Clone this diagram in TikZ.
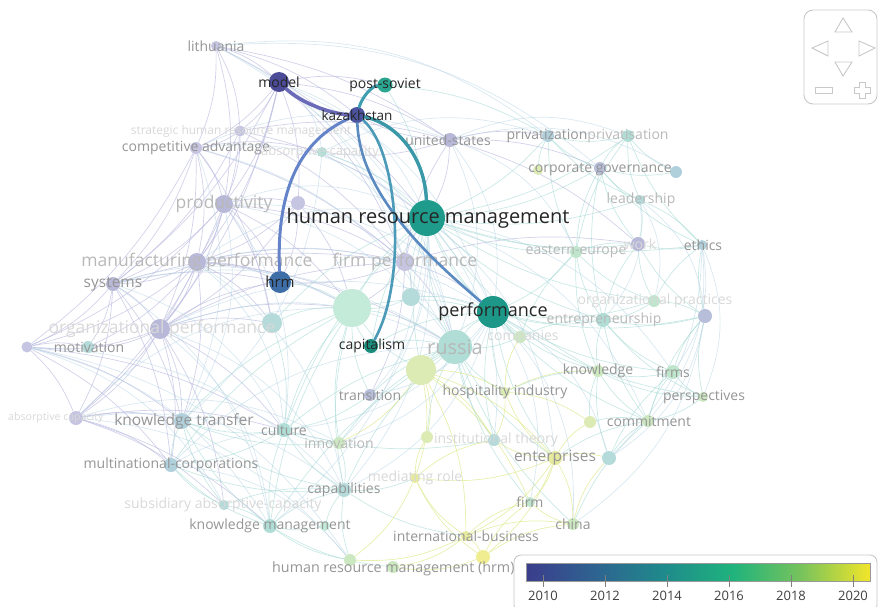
\documentclass[tikz,border=0pt]{standalone}
\usepackage{fontspec}
\setmainfont{Open Sans}
\usetikzlibrary{graphs,backgrounds}

\definecolor{lav}{HTML}{C5C5E2}
\definecolor{lavd}{HTML}{B8B8D8}
\definecolor{tealA}{HTML}{B0DED6}
\definecolor{tealB}{HTML}{B4DADA}
\definecolor{blueA}{HTML}{B6BEDA}
\definecolor{blueB}{HTML}{B0D0DC}
\definecolor{greenA}{HTML}{BFE6CC}
\definecolor{greenB}{HTML}{C4EADA}
\definecolor{greenC}{HTML}{CCE8C0}
\definecolor{yelA}{HTML}{DCEAB4}
\definecolor{yelB}{HTML}{E6EA9E}
\definecolor{yelC}{HTML}{F0EC90}
\definecolor{hmodel}{HTML}{4B4B97}
\definecolor{hpost}{HTML}{2AA690}
\definecolor{hkaz}{HTML}{4D549F}
\definecolor{hhrmgt}{HTML}{1F9B8C}
\definecolor{hhrm}{HTML}{3D6EA8}
\definecolor{hperf}{HTML}{1D9888}
\definecolor{hcap}{HTML}{1B8D7C}
\definecolor{wmodel}{HTML}{6A6AB8}
\definecolor{wpost}{HTML}{3E9EB0}
\definecolor{whrm}{HTML}{6583C8}
\definecolor{wperf}{HTML}{5A8AC0}
\definecolor{wcap}{HTML}{4A9AB8}
\definecolor{whrmgt}{HTML}{3B98A8}
\definecolor{tgray}{HTML}{959595}
\definecolor{tpale}{HTML}{B8B8B8}
\definecolor{tghost}{HTML}{D8D8D8}
\definecolor{wlav}{HTML}{B9B9E0}
\definecolor{wteal}{HTML}{9ED6D0}
\definecolor{wyel}{HTML}{DDE88A}
\definecolor{wmix}{HTML}{B4D2E2}
\definecolor{navgray}{HTML}{C8C8C8}
\definecolor{vir0}{HTML}{3B3D8C}
\definecolor{vir1}{HTML}{2E6390}
\definecolor{vir2}{HTML}{1F8A8B}
\definecolor{vir3}{HTML}{1FB37D}
\definecolor{vir4}{HTML}{78C35C}
\definecolor{vir5}{HTML}{F2E52A}
\pgfdeclarehorizontalshading{viridis}{100bp}{color(0bp)=(vir0); color(25bp)=(vir0); color(35bp)=(vir1); color(45bp)=(vir2); color(55bp)=(vir3); color(65bp)=(vir4); color(75bp)=(vir5); color(100bp)=(vir5)}

\tikzset{
    dot/.style 2 args={
        shape=circle,
        fill=#1,
        minimum size=#2,
        inner sep=0pt
    },
    tag/.style={
        inner sep=0pt,
        text=tgray,
        font=\fontsize{14}{14}\selectfont
    },
    midtag/.style={font=\fontsize{15.5}{16}\selectfont},
    bigtag/.style={font=\fontsize{17.5}{18}\selectfont},
    pale/.style={text=tpale},
    ghost/.style={text=tghost},
    keytag/.style={
        inner sep=0pt,
        text=black!85,
        font=\fontsize{14}{14}\selectfont
    },
    lavwire/.style={draw=wlav, opacity=.65, line width=.7pt, bend left=12},
    tealwire/.style={draw=wteal, opacity=.55, line width=.7pt, bend right=12},
    yelwire/.style={draw=wyel, opacity=.7, line width=.7pt, bend left=14},
    mixwire/.style={draw=wmix, opacity=.5, line width=.7pt, bend left=22},
    hotwire/.style={draw=#1, line width=3pt, line cap=round},
    nav/.style={draw=navgray, line width=.9pt},
    yeartick/.style={draw=gray, line width=1pt},
    yearlbl/.style={
        inner sep=0pt,
        text=black!75,
        font=\fontsize{13}{13}\selectfont
    }
}

\begin{document}
\begin{tikzpicture}[x=1pt, y=-1pt]
    \useasboundingbox (0,0) rectangle (878,606);
    % faded keywords
    \node[dot={lav}{10pt}] (lith) at (216,46) {};
    \node[dot={lav}{11pt}] (sthrm) at (240,131) {};
    \node[dot={lav}{12pt}] (compadv) at (196,148) {};
    \node[dot={tealA}{10pt}] (absorb) at (322,152) {};
    \node[dot={lavd}{14pt}] (usa) at (450,140) {};
    \node[dot={blueB}{12pt}] (priv1) at (548,136) {};
    \node[dot={tealA}{12pt}] (priv2) at (628,136) {};
    \node[dot={yelA}{10pt}] (corpgovg) at (538,170) {};
    \node[dot={blueA}{12pt}] (corpgov) at (600,168) {};
    \node[dot={blueB}{12pt}] (corpgov2) at (676,172) {};
    \node[dot={tealB}{10pt}] (leader) at (640,200) {};
    \node[dot={lavd}{18pt}] (prod) at (224,204) {};
    \node[dot={lav}{14pt}] (prodb) at (298,203) {};
    \node[dot={greenA}{12pt}] (eeurope) at (576,252) {};
    \node[dot={lavd}{14pt}] (work) at (638,244) {};
    \node[dot={blueB}{10pt}] (ethics) at (702,245) {};
    \node[dot={lavd}{18pt}] (manuf) at (197,262) {};
    \node[dot={lav}{18pt}] (firmperf) at (405,262) {};
    \node[dot={lavd}{14pt}] (systems) at (113,284) {};
    \node[dot={greenB}{38pt}] (big1) at (352,308) {};
    \node[dot={tealB}{18pt}] (mid1) at (411,297) {};
    \node[dot={tealB}{20pt}] (mid2) at (272,323) {};
    \node[dot={lavd}{20pt}] (orgperf) at (160,329) {};
    \node[dot={tealB}{12pt}] (motiv) at (88,347) {};
    \node[dot={lav}{11pt}] (motivl) at (27,347) {};
    \node[dot={greenA}{12pt}] (orgprac) at (654,301) {};
    \node[dot={tealA}{14pt}] (ent) at (603,320) {};
    \node[dot={blueA}{14pt}] (emerg) at (705,316) {};
    \node[dot={greenC}{12pt}] (companies) at (520,337) {};
    \node[dot={tealA}{34pt}] (russia) at (455,347) {};
    \node[dot={yelA}{30pt}] (hrmprac) at (421,370) {};
    \node[dot={greenC}{12pt}] (knowledge) at (598,371) {};
    \node[dot={greenA}{14pt}] (firms) at (673,372) {};
    \node[dot={blueA}{12pt}] (transition) at (370,395) {};
    \node[dot={yelA}{10pt}] (hosp) at (505,392) {};
    \node[dot={greenC}{10pt}] (persp) at (703,397) {};
    \node[dot={lav}{14pt}] (absl) at (76,418) {};
    \node[dot={blueB}{16pt}] (ktrans) at (182,421) {};
    \node[dot={tealA}{14pt}] (culture) at (284,430) {};
    \node[dot={greenC}{12pt}] (innov) at (339,443) {};
    \node[dot={yelA}{12pt}] (yelg) at (427,437) {};
    \node[dot={tealB}{12pt}] (instth) at (494,440) {};
    \node[dot={yelA}{12pt}] (sy) at (590,422) {};
    \node[dot={greenC}{12pt}] (commit) at (648,421) {};
    \node[dot={yelB}{14pt}] (enterpr) at (555,458) {};
    \node[dot={tealB}{14pt}] (ent2) at (609,458) {};
    \node[dot={blueB}{14pt}] (mnc) at (171,465) {};
    \node[dot={yelB}{10pt}] (medrole) at (415,478) {};
    \node[dot={tealB}{14pt}] (capab) at (344,490) {};
    \node[dot={greenA}{10pt}] (firm) at (530,502) {};
    \node[dot={tealB}{10pt}] (subsid) at (224,505) {};
    \node[dot={tealA}{14pt}] (kmgmt) at (270,526) {};
    \node[dot={greenB}{10pt}] (kmgmt2) at (325,526) {};
    \node[dot={greenC}{12pt}] (china) at (573,524) {};
    \node[dot={yelB}{10pt}] (intbus) at (466,536) {};
    \node[dot={greenC}{12pt}] (hrmh1) at (350,560) {};
    \node[dot={greenC}{12pt}] (hrmh2) at (393,567) {};
    \node[dot={yelC}{14pt}] (yel) at (483,557) {};

    % kazakhstan and its links
    \node[dot={hmodel}{20pt}] (model) at (279,82) {};
    \node[dot={hpost}{15pt}] (postsov) at (385,85) {};
    \node[dot={hkaz}{16pt}] (kaz) at (357,115) {};
    \node[dot={hhrmgt}{36pt}] (hrmgt) at (427,218) {};
    \node[dot={hhrm}{22pt}] (hrm) at (280,282) {};
    \node[dot={hperf}{32pt}] (perf) at (493,312) {};
    \node[dot={hcap}{14pt}] (cap) at (371,346) {};

    \begin{pgfonlayer}{background}
        \graph[use existing nodes, edges={lavwire}]{
            lith -- {model, sthrm, compadv, kaz, prod, usa, hrmgt};
            model -- {compadv, sthrm, prod, prodb, manuf, firmperf, systems, usa, postsov, orgperf};
            sthrm -- {compadv, prod, manuf, firmperf, usa, hrmgt, systems};
            compadv -- {prod, manuf, systems, orgperf, firmperf, motivl, absorb, mid2};
            prod -- {manuf, systems, orgperf, firmperf, hrm, motivl, prodb, big1, mid2, absl};
            prodb -- {manuf, firmperf, hrm, big1, orgperf};
            manuf -- {systems, orgperf, firmperf, motivl, motiv, absl, ktrans, big1, mid2, hrm, russia};
            systems -- {orgperf, motivl, motiv, absl, ktrans, mnc, firmperf, hrm};
            orgperf -- {motivl, motiv, absl, ktrans, mnc, firmperf, mid2, big1, culture, hrm, subsid};
            motivl -- {motiv, absl, ktrans, mnc, culture};
            absl -- {ktrans, mnc, subsid, kmgmt, culture};
            firmperf -- {usa, hrmgt, perf, big1, mid1, russia, hrm, transition, work};
            usa -- {hrmgt, priv1, corpgov, work, kaz, absorb};
        };
        \graph[use existing nodes, edges={tealwire}]{
            hrmgt -- {perf, russia, big1, mid1, eeurope, priv1, priv2, corpgov, leader, work, ethics, ent, companies, cap, hrmprac, absorb, postsov, orgprac, knowledge, mid2, culture};
            perf -- {russia, big1, mid1, eeurope, ent, orgprac, companies, knowledge, firms, hosp, commit, instth, enterpr, cap, hrmprac, emerg, persp};
            russia -- {big1, mid1, hrmprac, cap, transition, companies, hosp, innov, capab, instth, enterpr, culture, kmgmt, firm, china, yelg};
            big1 -- {mid1, mid2, cap, hrm, culture, transition, innov, capab, ktrans, mnc, kmgmt, hrmprac};
            priv1 -- {priv2, corpgov, corpgovg, eeurope, leader, postsov};
            priv2 -- {corpgov, corpgov2, leader, eeurope, ethics};
            corpgov -- {corpgov2, leader, eeurope, work, ethics, ent};
            work -- {ethics, leader, orgprac, ent, emerg, eeurope};
            ethics -- {emerg, orgprac, leader};
            eeurope -- {ent, orgprac, companies, knowledge};
            ent -- {orgprac, emerg, knowledge, firms, persp, commit, companies};
            emerg -- {firms, persp, orgprac, commit};
            knowledge -- {firms, persp, commit, sy, ent2, hosp};
            firms -- {persp, commit, ent2};
            commit -- {ent2, sy, enterpr, china, persp};
            ktrans -- {mnc, culture, subsid, kmgmt, capab, innov};
            mnc -- {subsid, kmgmt, culture, capab};
            culture -- {innov, capab, kmgmt, transition, instth, mid2};
            capab -- {kmgmt, kmgmt2, innov, medrole, hrmh1, intbus, subsid};
            kmgmt -- {kmgmt2, subsid, hrmh1, hrmh2};
        };
        \graph[use existing nodes, edges={yelwire}]{
            hrmprac -- {hosp, yelg, medrole, intbus, enterpr, instth, innov, firm};
            enterpr -- {ent2, instth, firm, china, sy, hosp, medrole, intbus, yel};
            intbus -- {yel, medrole, firm, china, hrmh2, hrmh1};
            yel -- {hrmh2, china, firm, medrole};
            hosp -- {sy, instth, knowledge, companies};
            medrole -- {yelg, instth, hrmh1};
            china -- {firm, ent2};
        };
        \graph[use existing nodes, edges={mixwire}]{
            lith -- {priv1, corpgov, firmperf, russia};
            model -- {hrmgt, russia, perf, absorb};
            compadv -- {hrmgt, usa, russia, ktrans};
            prod -- {hrmgt, russia, perf, culture, ktrans};
            manuf -- {hrmgt, perf, culture, capab};
            systems -- {culture, big1, kmgmt, russia};
            motivl -- {subsid, kmgmt, hrmh1, capab};
            absl -- {hrmh1, capab, innov, big1};
            mnc -- {hrmh1, innov, russia};
            orgperf -- {russia, perf, capab, kmgmt};
            usa -- {priv2, corpgov2, perf, russia, eeurope};
            absorb -- {priv1, russia, perf, ktrans};
            hrmgt -- {transition, innov, capab, kmgmt, firms, commit, enterpr, instth};
            perf -- {capab, innov, transition, culture, china, firm, ent2};
            ethics -- {firms, persp, ent2, commit};
            emerg -- {ent2, china};
            leader -- {ent, orgprac, emerg};
        };
    \end{pgfonlayer}

    % faded labels
    \node[tag] (tlith) at (lith) {lithuania};
    \node[tag, ghost, font=\fontsize{12}{12}\selectfont] (tsthrm) at (241,131) {strategic human resource management};
    \node[tag] (tcompadv) at (196,148) {competitive advantage};
    \node[tag, ghost, font=\fontsize{13}{13}\selectfont] (tabsorb) at (320,152) {absorptive-capacity};
    \node[tag] (tusa) at (448,140) {united-states};
    \node[tag] (tpriv1) at (547,136) {privatization};
    \node[tag, pale] (tpriv2) at (628,136) {privatisation};
    \node[tag] (tcorpgov) at (600,170) {corporate governance};
    \node[tag, pale] (tleader) at (641,200) {leadership};
    \node[tag, bigtag, pale] (tprod) at (224,204) {productivity};
    \node[tag, pale] (teeurope) at (576,252) {eastern-europe};
    \node[tag, ghost] (twork) at (640,244) {work};
    \node[tag] (tethics) at (703,245) {ethics};
    \node[tag, bigtag, pale] (tmanuf) at (197,262) {manufacturing performance};
    \node[tag, bigtag, pale] (tfirmperf) at (405,262) {firm performance};
    \node[tag, midtag] (tsystems) at (113,284) {systems};
    \node[tag, bigtag, ghost] (torgperf) at (162,329) {organizational performance};
    \node[tag] (tmotiv) at (89,347) {motivation};
    \node[tag, ghost] (torgprac) at (655,301) {organizational practices};
    \node[tag, pale] (tent) at (604,320) {entrepreneurship};
    \node[tag, ghost] (tcompanies) at (523,337) {companies};
    \node[tag, font=\fontsize{20}{20}\selectfont, text=tpale] (trussia) at (455,347) {russia};
    \node[tag] (tknowledge) at (598,371) {knowledge};
    \node[tag] (tfirms) at (673,372) {firms};
    \node[tag] (ttransition) at (370,395) {transition};
    \node[tag] (thosp) at (505,392) {hospitality industry};
    \node[tag] (tpersp) at (704,397) {perspectives};
    \node[tag, ghost, anchor=west, font=\fontsize{10.6}{11}\selectfont] (tabsl) at (8,418) {absorptive capacity};
    \node[tag, midtag] (tktrans) at (184,421) {knowledge transfer};
    \node[tag] (tculture) at (284,430) {culture};
    \node[tag, pale] (tinnov) at (339,443) {innovation};
    \node[tag, ghost] (tinstth) at (496,440) {institutional theory};
    \node[tag] (tcommit) at (649,421) {commitment};
    \node[tag, midtag] (tenterpr) at (555,458) {enterprises};
    \node[tag] (tmnc) at (171,465) {multinational-corporations};
    \node[tag, ghost] (tmedrole) at (415,478) {mediating role};
    \node[tag] (tcapab) at (344,490) {capabilities};
    \node[tag] (tfirm) at (530,502) {firm};
    \node[tag, ghost] (tsubsid) at (223,505) {subsidiary absorptive-capacity};
    \node[tag] (tkmgmt) at (270,526) {knowledge management};
    \node[tag] (tchina) at (573,524) {china};
    \node[tag] (tintbus) at (466,536) {international-business};
    \node[tag, anchor=west, font=\fontsize{14.3}{14.3}\selectfont] (thrmh) at (272,569) {human resource management (hrm)};

    % links of kazakhstan
    \draw[hotwire=wmodel, line width=3.6pt] (model) .. controls (300,102) and (330,114) .. (kaz);
    \draw[hotwire=wpost] (kaz) .. controls (362,97) and (372,86) .. (postsov);
    \draw[hotwire=whrm] (kaz) .. controls (300,140) and (276,190) .. (hrm);
    \draw[hotwire=wperf, line width=2.6pt] (kaz) .. controls (360,190) and (420,250) .. (perf);
    \draw[hotwire=wcap, line width=2.6pt] (kaz) .. controls (398,150) and (408,280) .. (cap);
    \draw[hotwire=whrmgt, line width=3.4pt] (kaz) .. controls (400,125) and (425,160) .. (hrmgt);

    \node[keytag] (tmodel) at (model) {model};
    \node[keytag] (tpostsov) at (postsov) {post-soviet};
    \node[keytag, font=\fontsize{13.5}{13.5}\selectfont] (tkaz) at (kaz) {kazakhstan};
    \node[keytag, font=\fontsize{20}{20}\selectfont] (thrmgt) at (428,218) {human resource management};
    \node[keytag, font=\fontsize{15}{15}\selectfont] (thrm) at (hrm) {hrm};
    \node[keytag, font=\fontsize{18}{18}\selectfont] (tperf) at (perf) {performance};
    \node[keytag] (tcap) at (372,346) {capitalism};

    % navigation
    \draw[nav, rounded corners=9pt] (804,10) rectangle (877,104);
    \draw[nav] (835,32) -- (843,18) -- (852,32) -- cycle;
    \draw[nav] (828,41) -- (812,48) -- (828,56) -- cycle;
    \draw[nav] (859,41) -- (875,48) -- (859,56) -- cycle;
    \draw[nav] (835,62) -- (843,76) -- (852,62) -- cycle;
    \draw[nav] (815,87) rectangle (832,93);
    \draw[nav] (859,82) -- (865,82) -- (865,87) -- (870,87) -- (870,93) -- (865,93)
        -- (865,98) -- (859,98) -- (859,93) -- (854,93) -- (854,87) -- (859,87) -- cycle;

    % colour scale
    \draw[nav, fill=white, rounded corners=7pt] (514,555) rectangle (877,612);
    \shade[shading=viridis, draw=gray!80] (526,563) rectangle (870,581);
    \foreach \yr [count=\i from 0] in {2010,2012,...,2020}{
        \draw[yeartick] (543+62*\i,575) -- ++(0,12);
        \node[yearlbl] (y\yr) at (543+62*\i,596) {\yr};
    }
\end{tikzpicture}
\end{document}
